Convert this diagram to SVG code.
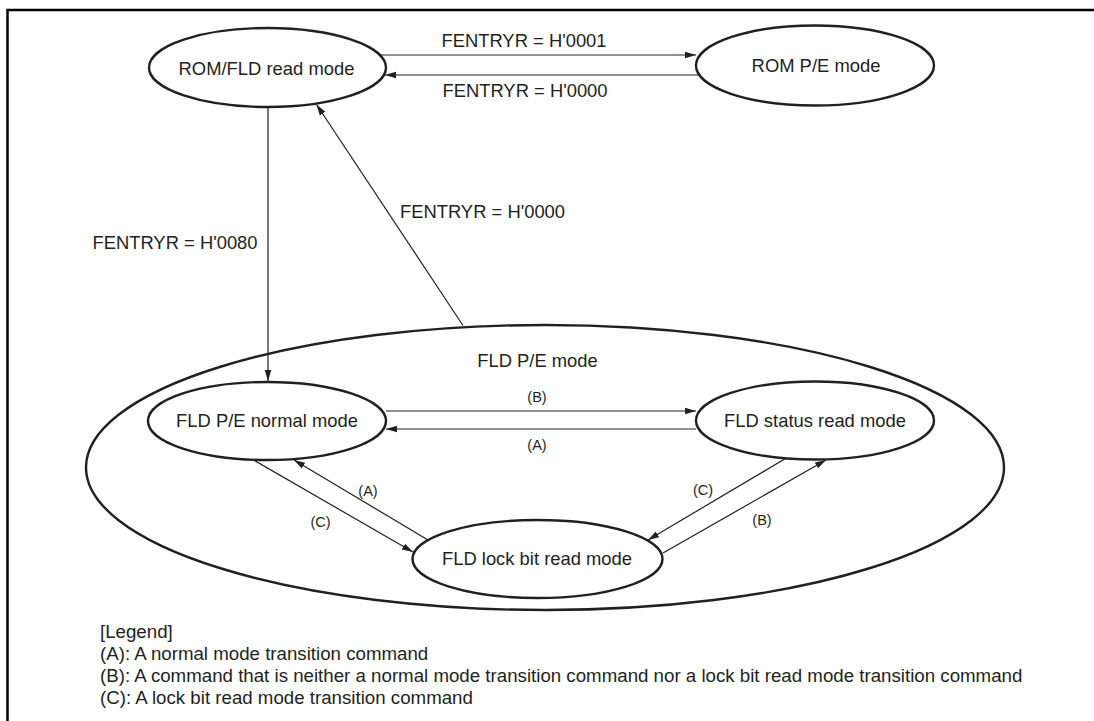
<svg xmlns="http://www.w3.org/2000/svg" width="1094" height="721" viewBox="0 0 1094 721">
<style>
.node{fill:none;stroke:#231f20;stroke-width:2.4}
.lbl{font-family:"Liberation Sans",Arial,sans-serif;font-size:18.4px;fill:#231f20;text-anchor:middle}
.sm{font-family:"Liberation Sans",Arial,sans-serif;font-size:14.5px;fill:#231f20;text-anchor:middle}
.leg{font-family:"Liberation Sans",Arial,sans-serif;font-size:18.7px;fill:#231f20}
.edge{fill:none;stroke:#231f20;stroke-width:1.2;marker-end:url(#ah)}
</style>
<defs>
<marker id="ah" markerWidth="12" markerHeight="8" refX="11" refY="4" orient="auto" markerUnits="userSpaceOnUse">
<path d="M0,0.7 L11,4 L0,7.3 Z" fill="#231f20"/>
</marker>
</defs>
<rect width="1094" height="721" fill="#fff"/>
<path d="M7.5,721 V10 H1094" fill="none" stroke="#000" stroke-width="2.5"/>

<g id="fld-pe-mode">
<ellipse class="node" cx="545" cy="467.5" rx="459" ry="142.5"/>
<text class="lbl" x="537.5" y="367">FLD P/E mode</text>
</g>
<g id="rom-fld-read">
<ellipse class="node" cx="267.5" cy="67.5" rx="118.5" ry="39.5"/>
<text class="lbl" x="266.5" y="75">ROM/FLD read mode</text>
</g>
<g id="rom-pe">
<ellipse class="node" cx="815" cy="65.5" rx="119" ry="40"/>
<text class="lbl" x="816" y="72">ROM P/E mode</text>
</g>
<g id="fld-pe-normal">
<ellipse class="node" cx="267" cy="421" rx="119" ry="39"/>
<text class="lbl" x="267" y="427">FLD P/E normal mode</text>
</g>
<g id="fld-status-read">
<ellipse class="node" cx="815" cy="420.5" rx="119" ry="39"/>
<text class="lbl" x="815" y="427">FLD status read mode</text>
</g>
<g id="fld-lockbit-read">
<ellipse class="node" cx="537.5" cy="559" rx="125" ry="39"/>
<text class="lbl" x="537" y="565">FLD lock bit read mode</text>
</g>

<g id="connectors">
<line class="edge" x1="380" y1="55" x2="696" y2="55"/>
<line class="edge" x1="698" y1="75" x2="385" y2="75"/>
<line class="edge" x1="268" y1="107" x2="268" y2="381"/>
<line class="edge" x1="463" y1="325.5" x2="316.5" y2="104.5"/>
<line class="edge" x1="386" y1="411" x2="696" y2="411"/>
<line class="edge" x1="696" y1="429" x2="386" y2="429"/>
<line class="edge" x1="253.5" y1="460" x2="413" y2="552"/>
<line class="edge" x1="428" y1="540" x2="294" y2="460"/>
<line class="edge" x1="785.5" y1="458.5" x2="648" y2="540"/>
<line class="edge" x1="663" y1="553" x2="826" y2="460"/>
</g>

<g id="labels">
<text class="lbl" x="524" y="47">FENTRYR = H'0001</text>
<text class="lbl" x="525" y="96.5">FENTRYR = H'0000</text>
<text class="lbl" x="175" y="249">FENTRYR = H'0080</text>
<text class="lbl" x="482.5" y="218">FENTRYR = H'0000</text>
<text class="sm" x="537" y="402">(B)</text>
<text class="sm" x="537" y="450">(A)</text>
<text class="sm" x="368" y="496">(A)</text>
<text class="sm" x="320.5" y="527">(C)</text>
<text class="sm" x="703" y="495">(C)</text>
<text class="sm" x="762" y="525">(B)</text>
</g>

<g id="legend">
<text class="leg" x="100" y="638">[Legend]</text>
<text class="leg" x="100" y="660">(A): A normal mode transition command</text>
<text class="leg" x="100" y="682">(B): A command that is neither a normal mode transition command nor a lock bit read mode transition command</text>
<text class="leg" x="100" y="704">(C): A lock bit read mode transition command</text>
</g>
</svg>
